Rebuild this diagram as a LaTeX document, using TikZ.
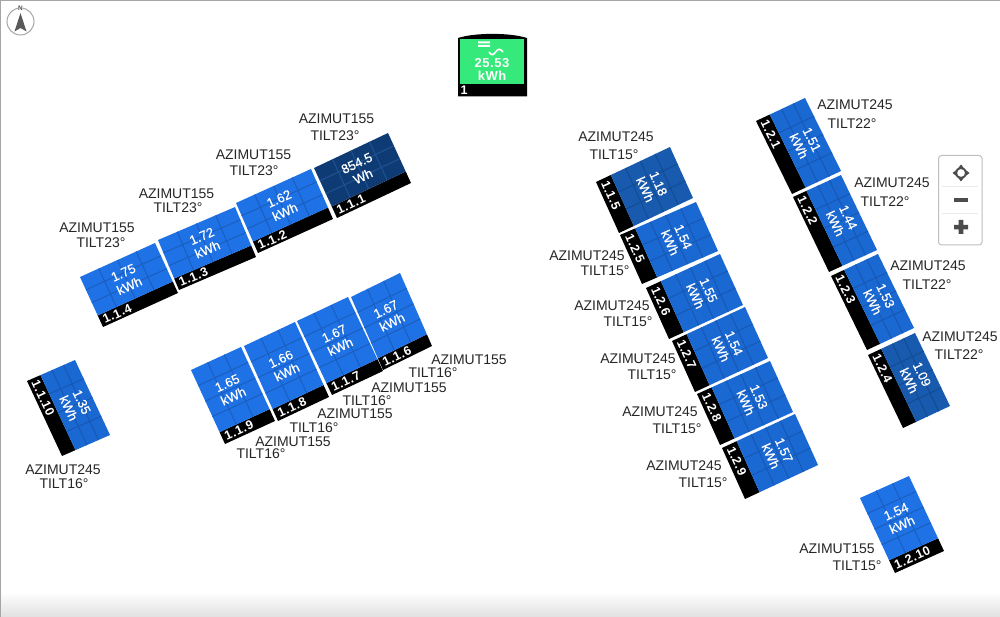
\documentclass[tikz,border=0pt]{standalone}
\usepackage{fontspec}
\setmainfont{Liberation Sans}
\definecolor{pblue}{HTML}{1E72E6}\definecolor{gblue}{HTML}{1A5EBE}
\definecolor{pmid}{HTML}{1A68D2}\definecolor{gmid}{HTML}{1758B4}
\definecolor{pdeep}{HTML}{175AAE}\definecolor{gdeep}{HTML}{134C94}
\definecolor{pnavy}{HTML}{0F3B75}\definecolor{gnavy}{HTML}{1E5292}
\definecolor{invgreen}{HTML}{35E97A}
\tikzset{
 lbl/.style={inner sep=0pt,text=black!85,font=\fontsize{14}{16}\selectfont},
 valtxt/.style={inner sep=0pt,align=center,text=white,font=\fontsize{13}{14.5}\selectfont\addfontfeature{FakeBold=0.6}},
 idtxt/.style={inner sep=0pt,anchor=west,text=white,font=\bfseries\fontsize{12.5}{15}\selectfont\addfontfeature{LetterSpace=5}},
 ctrlbtn/.style={fill=black!70,draw=none}
}
\newcommand\pfill{pblue}\newcommand\pgrid{gblue}
\newcommand\pcols{4}\newcommand\prows{3}\newcommand\pbar{0.2}
\newcommand\pstyle[5]{\renewcommand\pcols{#1}\renewcommand\prows{#2}\renewcommand\pbar{#3}\renewcommand\pfill{#4}\renewcommand\pgrid{#5}}
% name, TL, TR, BL (pixels), id, value
\newcommand\panel[9]{%
 \pgfmathsetmacro\ux{#4-#2}\pgfmathsetmacro\uy{-(#5-#3)}%
 \pgfmathsetmacro\vx{#6-#2}\pgfmathsetmacro\vy{-(#7-#3)}%
 \pgfmathsetmacro\ang{atan2(\uy,\ux)}%
 \pgfmathsetmacro\ix{3/veclen(\ux,\uy)}%
 \pgfmathsetmacro\blue{1-\pbar}%
 \pgfmathsetmacro\midblue{\blue/2}%
 \pgfmathsetmacro\midbar{1-\pbar/2}%
 \begin{scope}[x=1pt,y=1pt,cm={\ux,\uy,\vx,\vy,(#2pt,-#3pt)}]
  \fill[black] (0,\blue) -- (1,\blue) -- (1,1) -- (0,1) -- cycle;
  \fill[\pfill] (0,0) -- (1,0) -- (1,\blue) -- (0,\blue) -- cycle;
  \pgfmathsetmacro\cl{\pcols-1}\pgfmathsetmacro\rl{\prows-1}%
  \foreach \i in {1,...,\cl}{\draw[\pgrid,line width=1pt] ({\i/\pcols},0) -- ({\i/\pcols},\blue);}
  \foreach \i in {1,...,\rl}{\draw[\pgrid,line width=1pt] (0,{\i*\blue/\prows}) -- (1,{\i*\blue/\prows});}
  \node[valtxt,rotate=\ang] (#1) at (0.5,\midblue) {#9};
  \node[idtxt,rotate=\ang] (#1id) at (\ix,\midbar) {#8};
 \end{scope}}
\begin{document}
\begin{tikzpicture}[x=1pt,y=-1pt]
\useasboundingbox (0,0) rectangle (1000,617);
\fill[white] (0,0) rectangle (1000,617);
\shade[top color=white,bottom color=black!12] (0,592) rectangle (1000,617);
\draw[black!35,line width=1.2pt] (0.5,617) -- (0.5,0.5) -- (1000,0.5);

% compass
\draw[black!35,fill=white,line width=1pt] (20.5,21.5) circle (13.5);
\fill[black!65] (20.5,13) -- (26.5,31.5) -- (20.5,28) -- (14.5,31.5) -- cycle;
\node[inner sep=0.5pt,fill=white,text=black!70,font=\bfseries\fontsize{6.5}{7}\selectfont] (north) at (20.5,8) {N};

% inverter
\fill[black] (458,96.5) -- (458,38) .. controls (475,32.5) and (510,32.5) .. (527,38) -- (527,96.5) -- cycle;
\fill[invgreen] (460,39) -- (524,39) -- (524,84) -- (460,84) -- cycle;
\fill[white] (478,41.5) rectangle (490,43.5) (478,45) rectangle (490,47);
\draw[white,line width=1.6pt] (489,52) .. controls (492,57) and (494,54) .. (496,51.5) .. controls (498,49) and (500,48) .. (503,52);
\node[valtxt,font=\bfseries\fontsize{13}{13}\selectfont\addfontfeature{LetterSpace=4}] (inv) at (492,69) {25.53\\kWh};
\node[idtxt] (invid) at (460.5,90.5) {1};

% panels
\pstyle{4}{3}{0.23}{pblue}{gblue}
\panel{pa}{80}{277}{155}{243}{103}{327}{1.1.4}{1.75\\kWh}
\panel{pb}{158}{240}{235}{207}{179}{290}{1.1.3}{1.72\\kWh}
\panel{pc}{236}{203}{311}{169}{258}{253}{1.1.2}{1.62\\kWh}
\pstyle{4}{3}{0.23}{pnavy}{gnavy}
\panel{pd}{314}{168}{388}{133}{337}{218}{1.1.1}{854.5\\Wh}

\pstyle{3}{4}{0.16}{pblue}{gblue}
\panel{pe}{191}{370}{241}{347}{225}{444}{1.1.9}{1.65\\kWh}
\panel{pf}{244}{346}{295}{322}{278}{421}{1.1.8}{1.66\\kWh}
\panel{pg}{297}{321}{348}{297}{332}{395}{1.1.7}{1.67\\kWh}
\panel{ph}{351}{297}{400}{273}{383}{370}{1.1.6}{1.67\\kWh}

\pstyle{3}{4}{0.2}{pmid}{gmid}
\panel{pi}{696}{202}{718}{251}{620}{235}{1.2.5}{1.54\\kWh}
\panel{pj}{720}{254}{743}{305}{646}{288}{1.2.6}{1.55\\kWh}
\panel{pk}{745}{307}{768}{358}{672}{341}{1.2.7}{1.54\\kWh}
\panel{pl}{770}{361}{793}{412}{697}{394}{1.2.8}{1.53\\kWh}
\panel{pm}{795}{414}{818}{465}{722}{448}{1.2.9}{1.57\\kWh}
\pstyle{3}{4}{0.2}{pdeep}{gdeep}
\panel{pn}{670}{147}{693}{198}{596}{182}{1.1.5}{1.18\\kWh}

\pstyle{4}{3}{0.28}{pmid}{gmid}
\panel{po}{75}{360}{110}{435}{27}{381}{1.1.10}{1.35\\kWh}
\pstyle{3}{4}{0.17}{pblue}{gblue}
\panel{pp}{860}{498}{909}{476}{895}{573}{1.2.10}{1.54\\kWh}

\pstyle{4}{3}{0.28}{pmid}{gmid}
\panel{pq}{805}{98}{841}{171}{756}{121}{1.2.1}{1.51\\kWh}
\panel{pr}{841}{175}{877}{250}{793}{197}{1.2.2}{1.44\\kWh}
\panel{ps}{878}{254}{914}{328}{831}{276}{1.2.3}{1.53\\kWh}
\pstyle{4}{3}{0.28}{pdeep}{gdeep}
\panel{pt}{915}{333}{950}{406}{868}{355}{1.2.4}{1.09\\kWh}

% labels
\foreach \t/\x/\y [count=\n] in {
 AZIMUT155/336.5/119, TILT23°/335/136,
 AZIMUT155/253.5/155, TILT23°/254/171,
 AZIMUT155/176.5/194, TILT23°/178/208,
 AZIMUT155/97/228, TILT23°/101/243,
 AZIMUT155/469/360, TILT16°/433/373,
 AZIMUT155/409/388, TILT16°/367/401,
 AZIMUT155/355/414, TILT16°/314/428,
 AZIMUT155/293/442, TILT16°/261/454,
 AZIMUT245/63/470, TILT16°/64/484,
 AZIMUT245/616/137, TILT15°/614/155,
 AZIMUT245/587/256, TILT15°/605/271,
 AZIMUT245/612/306, TILT15°/628/322,
 AZIMUT245/638/359, TILT15°/652/375,
 AZIMUT245/660/412, TILT15°/677/429,
 AZIMUT245/684/466, TILT15°/703/483,
 AZIMUT245/855/105, TILT22°/852/124,
 AZIMUT245/892/183, TILT22°/885/202,
 AZIMUT245/928/266, TILT22°/927/285,
 AZIMUT245/960/337, TILT22°/959/355,
 AZIMUT155/837/549, TILT15°/857/566}
 {\node[lbl] (lab\n) at (\x,\y) {\t};}

% map controls
\draw[black!25,fill=white,rounded corners=3pt,line width=1pt] (938.5,155.5) rectangle (982,245);
\draw[black!8,line width=0.8pt] (942,186.5) -- (978,186.5) (942,213.5) -- (978,213.5);
\draw[black!70,line width=1.8pt] (961,173) circle (5);
\fill[ctrlbtn] (961,164.5) -- (964.5,169) -- (957.5,169) -- cycle
 (961,181.5) -- (964.5,177) -- (957.5,177) -- cycle
 (952.5,173) -- (957,169.5) -- (957,176.5) -- cycle
 (969.5,173) -- (965,169.5) -- (965,176.5) -- cycle;
\fill[ctrlbtn] (954,198) rectangle (968,202.5);
\fill[ctrlbtn] (954,225) rectangle (968,229.5) (958.7,220) rectangle (963.3,234);
\end{tikzpicture}
\end{document}
